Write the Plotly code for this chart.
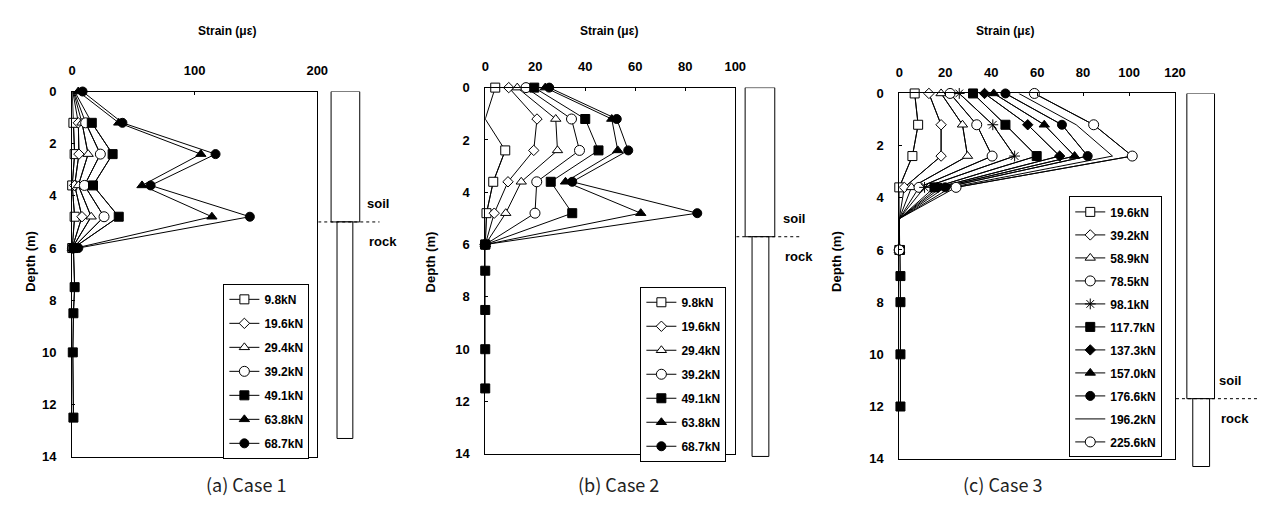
import plotly.graph_objects as go

W, H = 1269, 524

# ---------------- data ----------------
# Case 1: strain (micro-strain) vs depth (m)
depth_a = [0, 1.2, 2.4, 3.6, 4.8, 6.0]
depth_a_ext = [0, 1.2, 2.4, 3.6, 4.8, 6.0, 7.5, 8.5, 10.0, 12.5]
loads_a = ["9.8kN", "19.6kN", "29.4kN", "39.2kN", "49.1kN", "63.8kN", "68.7kN"]
a_9_8 = [0, 1, 2, 0, 2, 0]
a_19_6 = [0.5, 5, 5.5, 2, 8, 0]
a_29_4 = [1, 8, 13, 5, 15.5, 0]
a_39_2 = [1.5, 11, 23, 10, 26, 0.5]
a_49_1 = [2, 16, 33, 17, 38, 1, 2, 1, 0.5, 1]
a_63_8 = [5, 38, 105, 57, 114, 3]
a_68_7 = [8.5, 41, 117, 64, 145, 5]

# Case 2
depth_b = [0, 1.2, 2.4, 3.6, 4.8, 6.0]
depth_b_ext = [0, 1.2, 2.4, 3.6, 4.8, 6.0, 7.0, 8.5, 10.0, 11.5]
loads_b = ["9.8kN", "19.6kN", "29.4kN", "39.2kN", "49.1kN", "63.8kN", "68.7kN"]
b_9_8 = [4, 0, 8, 3.2, 0.5, 0]
b_19_6 = [9.4, 20.7, 19.4, 9.1, 3.6, 0]
b_29_4 = [12.8, 28.2, 28.9, 14.4, 8.2, 0]
b_39_2 = [16.3, 34.5, 37.7, 20.6, 19.9, 0]
b_49_1 = [19.6, 40, 45.3, 26.2, 34.8, 0, 0, 0, 0, 0]
b_63_8 = [24, 50.6, 53, 32.1, 62.2, 0]
b_68_7 = [25.6, 52.6, 57.2, 34.8, 84.8, 0]

# Case 3
depth_c = [0, 1.2, 2.4, 3.6, 4.8, 6.0]
depth_c_ext = [0, 1.2, 2.4, 3.6, 4.8, 6.0, 7.0, 8.0, 10.0, 12.0]
loads_c = ["19.6kN", "39.2kN", "58.9kN", "78.5kN", "98.1kN", "117.7kN",
           "137.3kN", "157.0kN", "176.6kN", "196.2kN", "225.6kN"]
c_19_6 = [6.7, 8.2, 5.7, 0, 0, 0]
c_39_2 = [12.9, 18.2, 18.2, 2.2, 0, 0]
c_58_9 = [18.2, 27.5, 29.7, 5.3, 0, 0]
c_78_5 = [22.1, 33.7, 40.4, 8.6, 0, 0]
c_98_1 = [26.1, 40.7, 50.2, 11, 0, 0]
c_117_7 = [32.1, 46.2, 59.8, 15.3, 0, 0.3, 0.5, 0.5, 0.5, 0.5]
c_137_3 = [37.1, 55.9, 69.8, 16.8, 0, 0]
c_157_0 = [41.1, 63.1, 76.3, 18.2, 0, 0]
c_176_6 = [46.2, 70.8, 82, 20, 0, 0]
c_196_2 = [52, 77, 92.8, 22.5, 0, 0]
c_225_6 = [58.8, 84.6, 101.4, 24.7, 0, 0]

# pile schematic: soil/rock boundary depth and pile tip depth (m)
soil_depth = [5.0, 5.7, 11.7]
pile_tip = [13.3, 14.1, 14.3]

x_ranges = [[0, 200], [0, 100], [0, 120]]
x_ticks = [[0, 100, 200], [0, 20, 40, 60, 80, 100], [0, 20, 40, 60, 80, 100, 120]]
y_ticks = [0, 2, 4, 6, 8, 10, 12, 14]
captions = ["(a) Case 1", "(b) Case 2", "(c) Case 3"]

# ---------------- styles ----------------
OPEN = dict(color="white", line=dict(color="black", width=1))
FILL = dict(color="black", line=dict(color="black", width=1))
st_open_sq = dict(symbol="square", size=9, **OPEN)
st_open_di = dict(symbol="diamond", size=8, **OPEN)
st_open_tr = dict(symbol="triangle-up", size=9, **OPEN)
st_open_ci = dict(symbol="circle", size=10, **OPEN)
st_fill_sq = dict(symbol="square", size=9, **FILL)
st_fill_tr = dict(symbol="triangle-up", size=9, **FILL)
st_fill_ci = dict(symbol="circle", size=9, **FILL)
st_fill_di = dict(symbol="diamond", size=8, **FILL)
st_star = dict(symbol="asterisk", size=9, color="black", line=dict(color="black", width=1))

FAM = "Arial, Liberation Sans, sans-serif"
BOLD = dict(family=FAM, size=13, color="black", weight="bold")
LEG_FONT = dict(family=FAM, size=12, color="black", weight="bold")
LINE = dict(color="black", width=1)

fig = go.Figure()


def add_series(xs, ys, name, marker, idx, legend_name, hide_at=(), mode="lines+markers"):
    """One load step; gauges listed in hide_at are joined by the line without a symbol."""
    ax = "" if idx == 0 else str(idx + 1)
    axes = dict(xaxis="x" + ax, yaxis="y" + ax)
    shown_x = list(xs)
    if hide_at and "markers" in mode:
        # full polyline underneath, symbols drawn only at the kept gauges
        fig.add_trace(go.Scatter(x=xs, y=ys, mode="lines", line=LINE, showlegend=False,
                                 hoverinfo="skip", cliponaxis=False, **axes))
        shown_x = [None if d in hide_at else v for v, d in zip(xs, ys)]
    fig.add_trace(go.Scatter(
        x=shown_x, y=ys, name=name, mode=mode, connectgaps=False,
        line=LINE, marker=marker if "markers" in mode else None,
        legend=legend_name, legendgroup=legend_name + name,
        cliponaxis=False, **axes,
    ))


series_a = [a_9_8, a_19_6, a_29_4, a_39_2, a_49_1, a_63_8, a_68_7]
styles_ab = [st_open_sq, st_open_di, st_open_tr, st_open_ci, st_fill_sq, st_fill_tr, st_fill_ci]
for k, (vals, name, mk) in enumerate(zip(series_a, loads_a, styles_ab)):
    d = depth_a_ext if len(vals) == len(depth_a_ext) else depth_a
    add_series(vals, d, name, mk, 0, "legend", hide_at=(0,) if k < 5 else ())

series_b = [b_9_8, b_19_6, b_29_4, b_39_2, b_49_1, b_63_8, b_68_7]
for k, (vals, name, mk) in enumerate(zip(series_b, loads_b, styles_ab)):
    d = depth_b_ext if len(vals) == len(depth_b_ext) else depth_b
    add_series(vals, d, name, mk, 1, "legend2", hide_at=(1.2,) if k == 0 else ())

series_c = [c_19_6, c_39_2, c_58_9, c_78_5, c_98_1, c_117_7, c_137_3,
            c_157_0, c_176_6, c_196_2, c_225_6]
styles_c = [st_open_sq, st_open_di, st_open_tr, st_open_ci, st_star, st_fill_sq,
            st_fill_di, st_fill_tr, st_fill_ci, None, st_open_ci]
for vals, name, mk in zip(series_c, loads_c, styles_c):
    d = depth_c_ext if len(vals) == len(depth_c_ext) else depth_c
    add_series(vals, d, name, mk, 2, "legend3", hide_at=(4.8,),
               mode="lines" if mk is None else "lines+markers")

# ---------------- layout ----------------
# plot areas in pixels: (left, right, top, bottom)
boxes = [(69, 317, 87, 463), (487, 740, 83, 460), (906, 1185, 89, 465)]
layout = dict(
    width=W, height=H, margin=dict(l=0, r=0, t=0, b=0),
    paper_bgcolor="white", plot_bgcolor="rgba(0,0,0,0)", showlegend=True,
)
for i, (l, r, t, b) in enumerate(boxes):
    ax = "" if i == 0 else str(i + 1)
    layout["xaxis" + ax] = dict(
        domain=[l / W, r / W], anchor="y" + ax, side="top",
        range=x_ranges[i], tickvals=x_ticks[i],
        showline=True, linecolor="black", linewidth=1, mirror=True,
        ticks="inside", ticklen=3, tickcolor="black",
        showgrid=False, zeroline=False, tickfont=BOLD, ticklabelstandoff=10,
    )
    layout["yaxis" + ax] = dict(
        domain=[1 - b / H, 1 - t / H], anchor="x" + ax,
        range=[14, 0], tickvals=y_ticks,
        showline=True, linecolor="black", linewidth=1, mirror=True,
        ticks="inside", ticklen=3, tickcolor="black",
        showgrid=False, zeroline=False, tickfont=BOLD, ticklabelstandoff=12,
    )

# hidden axes carrying the pile schematics (same metres-per-pixel as each panel,
# extended a little deeper so the pile tip below 14 m is not cut off)
pile_cols = [(318, 420), (741, 860), (1186, 1269)]
PILE_MAX = 15.5
for i, (l, r, t, b) in enumerate(boxes):
    n = str(i + 4)
    ppm = (b - t) / 14.0
    bottom = t + PILE_MAX * ppm
    layout["xaxis" + n] = dict(domain=[pile_cols[i][0] / W, pile_cols[i][1] / W],
                               range=list(pile_cols[i]), anchor="y" + n, visible=False)
    layout["yaxis" + n] = dict(domain=[1 - bottom / H, 1 - t / H], range=[PILE_MAX, 0],
                               anchor="x" + n, visible=False)

leg_boxes = [(222, 285), (644, 288), (1078, 195)]
leg_gap = [5, 5, 4]
for i, (lx, ty) in enumerate(leg_boxes):
    key = "legend" if i == 0 else "legend" + str(i + 1)
    layout[key] = dict(
        x=lx / W, y=1 - ty / H, xanchor="left", yanchor="top",
        bgcolor="white", bordercolor="black", borderwidth=1,
        font=LEG_FONT, tracegroupgap=leg_gap[i], itemwidth=30,
    )
fig.update_layout(**layout)

# axis titles and captions
title_x = [194, 612, 1044]
depth_x = [17, 432, 852]
caption_x = [202, 622, 1052]
for i in range(3):
    fig.add_annotation(x=title_x[i] / W, y=1 - 15 / H, xref="paper", yref="paper",
                       text="Strain (με)", showarrow=False,
                       font=dict(family=FAM, size=12, color="black", weight="bold"))
    fig.add_annotation(x=depth_x[i] / W, y=1 - 262 / H, xref="paper", yref="paper",
                       text="Depth (m)", textangle=-90, showarrow=False,
                       font=dict(family=FAM, size=13, color="black", weight="bold"))
    fig.add_annotation(x=caption_x[i] / W, y=1 - 507 / H, xref="paper", yref="paper",
                       text=captions[i], showarrow=False,
                       font=dict(family="Noto Sans CJK KR, Liberation Sans", size=18,
                                 color="#222"))

# pile schematic beside each panel: (soil box x0, x1), (rock x0, x1), (dash x0, x1), label x
piles = [((331, 360), (337, 353), (318, 380), 365),
         ((750, 780), (757, 774), (741, 807), 786),
         ((1197, 1225), (1203, 1220), (1186, 1269), 1228)]
for i, (sx, rx, dx, lx) in enumerate(piles):
    xr, yr = "x" + str(i + 4), "y" + str(i + 4)
    fig.add_shape(type="rect", xref=xr, yref=yr,
                  x0=sx[0], x1=sx[1], y0=0, y1=soil_depth[i],
                  line=dict(color="black", width=1), fillcolor="white")
    fig.add_shape(type="rect", xref=xr, yref=yr,
                  x0=rx[0], x1=rx[1], y0=soil_depth[i], y1=pile_tip[i],
                  line=dict(color="black", width=1), fillcolor="white")
    fig.add_shape(type="line", xref=xr, yref=yr,
                  x0=dx[0], x1=dx[1], y0=soil_depth[i], y1=soil_depth[i],
                  line=dict(color="black", width=1, dash="3px,3px"))
    fig.add_annotation(x=lx, y=soil_depth[i], xref=xr, yref=yr,
                       text="soil", showarrow=False, xanchor="left", yshift=18,
                       font=dict(family=FAM, size=13, color="black", weight="bold"))
    fig.add_annotation(x=lx + 2, y=soil_depth[i], xref=xr, yref=yr,
                       text="rock", showarrow=False, xanchor="left", yshift=-20,
                       font=dict(family=FAM, size=13, color="black", weight="bold"))

fig.write_html("out.html")
